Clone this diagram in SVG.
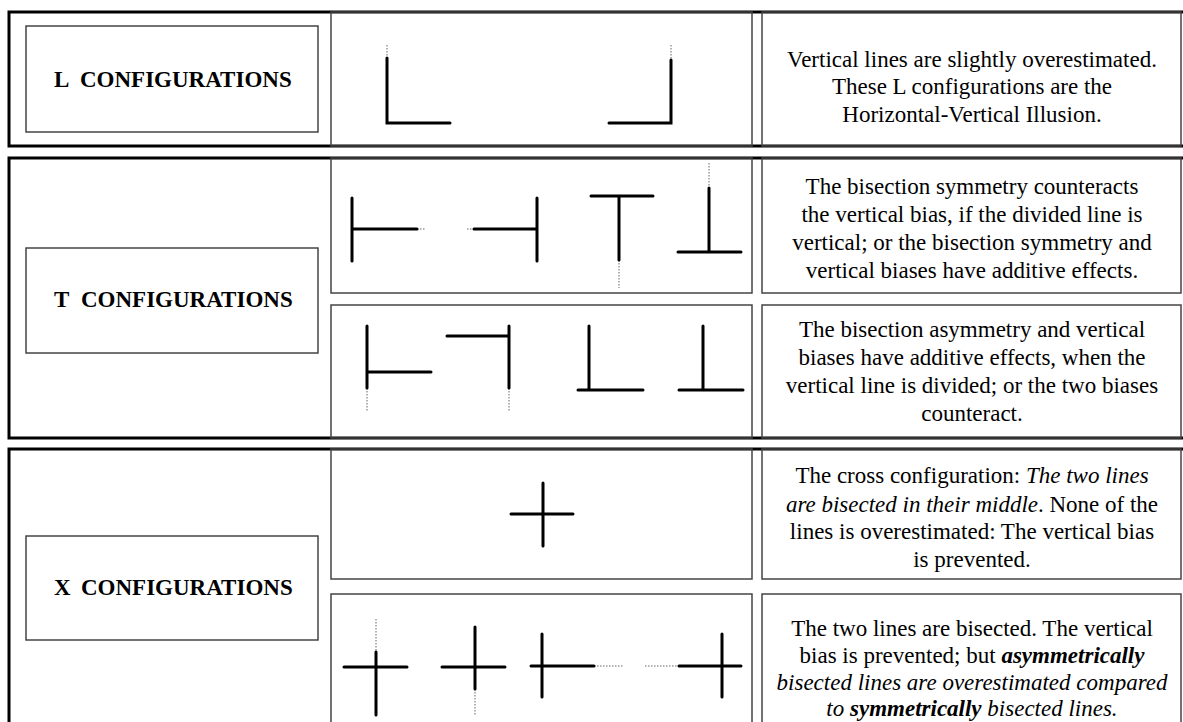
<svg xmlns="http://www.w3.org/2000/svg" width="1183" height="722" viewBox="0 0 1183 722">
<style>
.sec{fill:none;stroke:#000;stroke-width:3}
.cell{fill:none;stroke:#444;stroke-width:1.5}
.fig{fill:none;stroke:#000;stroke-width:3;stroke-linecap:round}
.dot{fill:none;stroke:#999;stroke-width:1.5;stroke-dasharray:1.5 1.5}
.lbl{font-family:"Liberation Serif","Times New Roman",serif;font-size:23px;font-weight:bold;fill:#000}
.txt{font-family:"Liberation Serif","Times New Roman",serif;font-size:23px;fill:#000;text-anchor:middle}
.i{font-style:italic}
.bi{font-style:italic;font-weight:bold}
</style>
<rect width="1183" height="722" fill="#fff"/>

<g id="section-L">
<rect class="sec" x="9" y="12" width="1176" height="134"/>
<g id="L-label"><rect class="cell" x="26" y="26" width="292" height="106"/>
<text class="lbl" y="87"><tspan x="54">L</tspan><tspan x="80">CONFIGURATIONS</tspan></text></g>
<g id="L-figures"><rect class="cell" x="331" y="12" width="421" height="134"/>
<path class="dot" d="M387 45V58M671 45V60"/>
<path class="fig" d="M387 58V123H450M609 123H671V60"/></g>
<g id="L-text"><rect class="cell" x="762" y="12" width="419" height="134"/>
<text class="txt"><tspan x="972" y="67">Vertical lines are slightly overestimated.</tspan><tspan x="972" y="94">These L configurations are the</tspan><tspan x="972" y="122">Horizontal-Vertical Illusion.</tspan></text></g>
</g>

<g id="section-T">
<rect class="sec" x="9" y="158" width="1176" height="280"/>
<g id="T-label"><rect class="cell" x="26" y="248" width="292" height="105"/>
<text class="lbl" y="307"><tspan x="54">T</tspan><tspan x="81">CONFIGURATIONS</tspan></text></g>
<g id="T-figures-1"><rect class="cell" x="331" y="158" width="421" height="135"/>
<path class="dot" d="M417 229H425M467 229H474M619 260V288M709 163V188"/>
<path class="fig" d="M352 198V261M352 229H417M537 198V261M474 229H537M591 196H653M619 196V260M678 252H741M709 188V252"/></g>
<g id="T-text-1"><rect class="cell" x="762" y="158" width="419" height="135"/>
<text class="txt"><tspan x="972" y="194">The bisection symmetry counteracts</tspan><tspan x="972" y="222">the vertical bias, if the divided line is</tspan><tspan x="972" y="250">vertical; or the bisection symmetry and</tspan><tspan x="972" y="278">vertical biases have additive effects.</tspan></text></g>
<g id="T-figures-2"><rect class="cell" x="331" y="305" width="421" height="133"/>
<path class="dot" d="M367 388V412M509 388V412"/>
<path class="fig" d="M367 326V388M367 372H431M509 326V388M447 336H509M589 326V390M578 390H643M703 326V390M679 390H743"/></g>
<g id="T-text-2"><rect class="cell" x="762" y="305" width="419" height="133"/>
<text class="txt"><tspan x="972" y="337">The bisection asymmetry and vertical</tspan><tspan x="972" y="365">biases  have additive effects, when the</tspan><tspan x="972" y="393">vertical line is divided; or the two biases</tspan><tspan x="972" y="421">counteract.</tspan></text></g>
</g>

<g id="section-X">
<rect class="sec" x="9" y="449" width="1176" height="290"/>
<g id="X-label"><rect class="cell" x="26" y="536" width="292" height="104"/>
<text class="lbl" y="595"><tspan x="54">X</tspan><tspan x="81">CONFIGURATIONS</tspan></text></g>
<g id="X-figures-1"><rect class="cell" x="331" y="449" width="421" height="130"/>
<path class="fig" d="M543 483V546M511 514H573"/></g>
<g id="X-text-1"><rect class="cell" x="762" y="449" width="419" height="130"/>
<text class="txt"><tspan x="972" y="483">The cross configuration: <tspan class="i">The two lines</tspan></tspan><tspan x="972" y="512"><tspan class="i">are bisected in their middle</tspan>. None of the</tspan><tspan x="972" y="539">lines is overestimated: The vertical bias</tspan><tspan x="972" y="567">is prevented.</tspan></text></g>
<g id="X-figures-2"><rect class="cell" x="331" y="594" width="421" height="146"/>
<path class="dot" d="M376 619V652M475 689V715M594 666H624M645 666H679"/>
<path class="fig" d="M344 667H407M376 652V715M442 667H505M475 627V689M531 666H594M542 634V697M679 666H741M722 634V697"/></g>
<g id="X-text-2"><rect class="cell" x="762" y="594" width="419" height="146"/>
<text class="txt"><tspan x="972" y="636">The two lines are bisected. The vertical</tspan><tspan x="972" y="663">bias is prevented; but <tspan class="bi">asymmetrically</tspan></tspan><tspan x="972" y="690" class="i">bisected lines are overestimated compared</tspan><tspan x="972" y="716" class="i">to <tspan class="bi">symmetrically</tspan> bisected lines.</tspan></text></g>
</g>

<g id="connectors"/>
</svg>
